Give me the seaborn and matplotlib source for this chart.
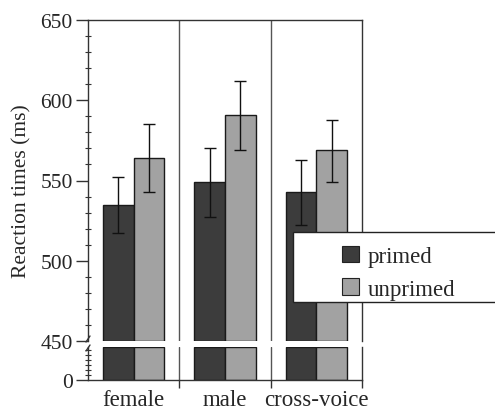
import numpy as np
import pandas as pd
import matplotlib
matplotlib.use("Agg")
import matplotlib.pyplot as plt
from matplotlib.ticker import MultipleLocator, FixedLocator
from matplotlib.patches import Rectangle
import seaborn as sns

# ---- data ----
conditions = ["female", "male", "cross-voice"]
primes = ["primed", "unprimed"]
primed_rt = [535, 549, 543]
unprimed_rt = [564, 591, 569]
primed_err_low = [517, 527, 522]
primed_err_high = [552, 570, 563]
unprimed_err_low = [543, 569, 549]
unprimed_err_high = [585, 612, 588]
y_ticks_upper = [450, 500, 550, 600, 650]
y_ticks_lower = [0]

df = pd.DataFrame({
    "cond": conditions * 2,
    "prime": ["primed"] * 3 + ["unprimed"] * 3,
    "rt": primed_rt + unprimed_rt,
    "lo": primed_err_low + unprimed_err_low,
    "hi": primed_err_high + unprimed_err_high,
})

sns.set_theme(style="white")
plt.rcParams["font.family"] = ["Liberation Serif", "DejaVu Serif"]
plt.rcParams["font.size"] = 15

W, H = 495, 410
fig = plt.figure(figsize=(W / 100, H / 100), dpi=100)
fig.patch.set_facecolor("white")

def fx(px):
    return px / W

def fy(py):
    return 1 - py / H

x0, x1 = 88, 362
up_top, up_bot = 21, 342
lo_top, lo_bot = 348, 381
ax_u = fig.add_axes([fx(x0), fy(up_bot), fx(x1) - fx(x0), fy(up_top) - fy(up_bot)])
ax_l = fig.add_axes([fx(x0), fy(lo_bot), fx(x1) - fx(x0), fy(lo_top) - fy(lo_bot)])

pal = {"primed": "#3c3c3c", "unprimed": "#a2a2a2"}
axis_col = "#333333"
sep_col = "#555555"

for ax in (ax_u, ax_l):
    sns.barplot(data=df, x="cond", y="rt", hue="prime", order=conditions,
                hue_order=primes, palette=pal, width=0.67, errorbar=None,
                edgecolor="#1a1a1a", linewidth=1.0, saturation=1, ax=ax,
                legend=False)
    ax.set_xlim(-0.5, 2.5)
    ax.set_xlabel("")
    ax.set_ylabel("")
    ax.set_facecolor("white")
    for s in ax.spines.values():
        s.set_color(axis_col)
        s.set_linewidth(1.0)
    for xv in (0.5, 1.5):
        ax.axvline(xv, color=sep_col, lw=1.0, zorder=0.5)

# upper axes
ax_u.set_ylim(450, 650)
ax_u.spines["bottom"].set_visible(False)
ax_u.set_xticks([])
for p in ax_u.patches:
    h = p.get_height()
    p.set_y(450)
    p.set_height(h - 450)
ax_u.yaxis.set_major_locator(FixedLocator(y_ticks_upper))
ax_u.yaxis.set_minor_locator(MultipleLocator(10))
ax_u.tick_params(axis="y", which="major", direction="out", length=9,
                 width=1.0, color=axis_col, labelsize=15.5, pad=2, left=True)
ax_u.tick_params(axis="y", which="minor", direction="inout", length=4,
                 width=0.8, color=axis_col, left=True)

# error bars from bar positions
for i, prime in enumerate(primes):
    sub = df[df.prime == prime].set_index("cond").loc[conditions]
    cont = ax_u.containers[i]
    xs = [b.get_x() + b.get_width() / 2 for b in cont]
    yv = sub["rt"].values
    yerr = np.vstack([yv - sub["lo"].values, sub["hi"].values - yv])
    ax_u.errorbar(xs, yv, yerr=yerr, fmt="none", ecolor="#111111",
                  elinewidth=1.0, capsize=4, capthick=1.0, zorder=3)

# lower axes
ax_l.set_ylim(0, 33)
ax_l.spines["top"].set_visible(False)
for p in ax_l.patches:
    p.set_height(min(p.get_height(), 33))
ax_l.yaxis.set_major_locator(FixedLocator(y_ticks_lower))
ax_l.yaxis.set_minor_locator(MultipleLocator(5))
ax_l.tick_params(axis="y", which="major", direction="out", length=9,
                 width=1.0, color=axis_col, labelsize=15.5, pad=2, left=True)
ax_l.tick_params(axis="y", which="minor", direction="inout", length=4,
                 width=0.8, color=axis_col, left=True)
ax_l.set_xticks([0, 1, 2])
ax_l.set_xticklabels(conditions)
ax_l.xaxis.set_minor_locator(FixedLocator([0.5, 1.5, 2.5]))
ax_l.tick_params(axis="x", which="major", length=0, labelsize=16.5, pad=6.5, bottom=True)
ax_l.tick_params(axis="x", which="minor", direction="out", length=6,
                 width=1.0, color=axis_col, bottom=True)

# break marks
for (ya, yb) in ((up_bot + 1, up_bot - 5), (lo_top + 4, lo_top - 2)):
    fig.add_artist(plt.Line2D([fx(x0 - 2), fx(x0 + 2)], [fy(ya), fy(yb)],
                              color=axis_col, lw=1.0))

# y label
fig.text(fx(22), fy(191), "Reaction times (ms)", rotation=90,
         ha="center", va="center", fontsize=15.5)

# legend box (extends past figure edge)
box = Rectangle((fx(293), fy(303)), fx(560) - fx(293), fy(233) - fy(303),
                transform=fig.transFigure, facecolor="white",
                edgecolor="#222222", lw=1.0, zorder=4)
fig.add_artist(box)
handles = [Rectangle((0, 0), 1, 1, facecolor=pal[p], edgecolor="#222222", lw=0.8)
           for p in primes]
leg = fig.legend(handles, primes, loc="upper left",
                 bbox_to_anchor=(fx(337), fy(242)), frameon=False,
                 fontsize=16.5, handlelength=0.75, handleheight=0.75,
                 handletextpad=0.4, labelspacing=0.5, borderaxespad=0,
                 borderpad=0.2)
leg.set_zorder(5)

fig.savefig("out.png", dpi=100, facecolor="white")
